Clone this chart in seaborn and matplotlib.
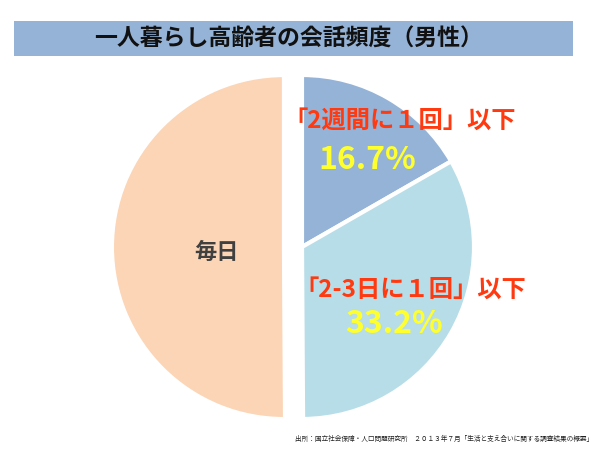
import matplotlib
matplotlib.use("Agg")
import matplotlib.pyplot as plt
import seaborn as sns
from matplotlib.patches import Rectangle

sns.set_theme(style="white")
plt.rcParams['font.family'] = ['Noto Sans CJK JP', 'DejaVu Sans']

# Data
categories = ["「2週間に１回」以下", "「2-3日に１回」以下", "毎日"]
values = [16.7, 33.2, 50.1]
pct_labels = ["16.7%", "33.2%", ""]
colors = ["#95B3D7", "#B7DDE8", "#FBD5B5"]
title = "一人暮らし高齢者の会話頻度（男性）"
source = "出所：国立社会保障・人口問題研究所　２０１３年７月「生活と支え合いに関する調査結果の概要」"

fig = plt.figure(figsize=(6, 4.5), dpi=100)
fig.patch.set_facecolor("white")
ax = fig.add_axes([0, 0, 1, 1])

R = 172.0
cx, cy = 302.0, 247.0
def px(x, y):
    return ((x - cx) / R, (cy - y) / R)

ax.pie(values, colors=colors, startangle=90, counterclock=False,
       explode=[0, 0, 0.105], radius=1.0,
       wedgeprops=dict(edgecolor="white", linewidth=3))

ax.set_xlim(-cx / R, (600 - cx) / R)
ax.set_ylim((cy - 450) / R, cy / R)
ax.set_aspect("auto")
ax.axis("off")

# Title bar
x0, y0 = px(14, 56)
x1, y1 = px(573, 21)
ax.add_patch(Rectangle((x0, y0), x1 - x0, y1 - y0, facecolor="#95B3D7",
                       edgecolor="none", zorder=5))
tx, ty = px(289, 39)
ax.text(tx, ty, title, ha="center", va="center", fontsize=16.5,
        fontweight="bold", color="#111111", zorder=6)

# Category labels
red = "#FF3A10"
yellow = "#FFFF2E"
lx, ly = px(400, 121)
ax.text(lx, ly, categories[0], ha="center", va="center", fontsize=17.5,
        fontweight="bold", color=red)
lx, ly = px(367, 160)
ax.text(lx, ly, pct_labels[0], ha="center", va="center", fontsize=23,
        fontweight="bold", color=yellow)
lx, ly = px(410, 290)
ax.text(lx, ly, categories[1], ha="center", va="center", fontsize=17.5,
        fontweight="bold", color=red)
lx, ly = px(394, 324)
ax.text(lx, ly, pct_labels[1], ha="center", va="center", fontsize=23,
        fontweight="bold", color=yellow)
lx, ly = px(216, 252)
ax.text(lx, ly, categories[2], ha="center", va="center", fontsize=16,
        fontweight="bold", color="#404040")

# Source
sx, sy = px(593, 439)
ax.text(sx, sy, source, ha="right", va="center", fontsize=4.8, color="#222222")

fig.savefig("out.png", dpi=100)
